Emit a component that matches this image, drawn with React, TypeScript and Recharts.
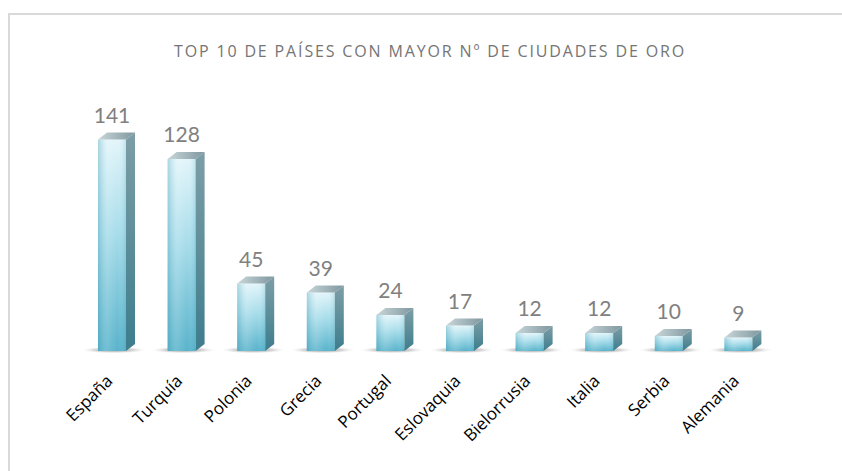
import React from 'react';
import { BarChart, Bar, XAxis, YAxis, LabelList } from 'recharts';

const countries = ['España', 'Turquía', 'Polonia', 'Grecia', 'Portugal', 'Eslovaquia', 'Bielorrusia', 'Italia', 'Serbia', 'Alemania'];
const goldCities = [141, 128, 45, 39, 24, 17, 12, 12, 10, 9];
const chartTitle = 'TOP 10 DE PAÍSES CON MAYOR Nº DE CIUDADES DE ORO';

const data = countries.map((country, i) => ({ country, value: goldCities[i] }));

const DX = 9;
const DY = 7;
const FONT = 'Lato, "Open Sans", sans-serif';
const FONT2 = '"Open Sans", Lato, sans-serif';

function Bar3D(props: any) {
  const { x, y, width, height, index } = props;
  if (height == null || width == null) return null;
  const b = y + height;
  const r = x + width;
  const id = `b${index}`;
  return (
    <g>
      <defs>
        <linearGradient id={`${id}front`} x1="0" y1="0" x2="0" y2="1">
          <stop offset="0%" stopColor="#e2f5fa" />
          <stop offset="45%" stopColor="#a6dcea" />
          <stop offset="100%" stopColor="#58b3cb" />
        </linearGradient>
        <linearGradient id={`${id}frontH`} x1="0" y1="0" x2="1" y2="0">
          <stop offset="0%" stopColor="#3a9ab3" stopOpacity="0.35" />
          <stop offset="35%" stopColor="#ffffff" stopOpacity="0.15" />
          <stop offset="70%" stopColor="#ffffff" stopOpacity="0" />
          <stop offset="100%" stopColor="#3a9ab3" stopOpacity="0.2" />
        </linearGradient>
        <linearGradient id={`${id}side`} x1="0" y1="0" x2="0" y2="1">
          <stop offset="0%" stopColor="#7d9ea6" />
          <stop offset="100%" stopColor="#3d7d8d" />
        </linearGradient>
        <linearGradient id={`${id}top`} x1="0" y1="0" x2="1" y2="0">
          <stop offset="0%" stopColor="#c9d6d9" />
          <stop offset="100%" stopColor="#7e979e" />
        </linearGradient>
        <radialGradient id={`${id}shadow`} cx="0.5" cy="0.5" r="0.5">
          <stop offset="0%" stopColor="#7a7a7a" stopOpacity="0.85" />
          <stop offset="60%" stopColor="#a8a8a8" stopOpacity="0.45" />
          <stop offset="100%" stopColor="#ffffff" stopOpacity="0" />
        </radialGradient>
      </defs>
      <ellipse cx={x + width / 2 + 2} cy={b - 1} rx={width * 1.2} ry={3.5} fill={`url(#${id}shadow)`} />
      <rect x={x} y={y} width={width} height={height} fill={`url(#${id}front)`} />
      <rect x={x} y={y} width={width} height={height} fill={`url(#${id}frontH)`} />
      <polygon
        points={`${r},${y} ${r + DX},${y - DY} ${r + DX},${b - DY} ${r},${b}`}
        fill={`url(#${id}side)`}
      />
      <polygon
        points={`${x},${y} ${x + DX},${y - DY} ${r + DX},${y - DY} ${r},${y}`}
        fill={`url(#${id}top)`}
      />
    </g>
  );
}

function ValueLabel(props: any) {
  const { x, y, width, value } = props;
  return (
    <text
      x={x + width / 2}
      y={y - 17}
      textAnchor="middle"
      fill="#808080"
      fontSize={21}
      fontFamily={FONT}
    >
      {value}
    </text>
  );
}

function CountryTick(props: any) {
  const { x, y, payload } = props;
  const tx = x + 2;
  const ty = y + 23;
  return (
    <text
      x={tx}
      y={ty}
      transform={`rotate(-45, ${tx}, ${ty})`}
      textAnchor="end"
      fill="#000000"
      fontSize={17}
      fontFamily={FONT2}
    >
      {payload.value}
    </text>
  );
}

export default function App() {
  return (
    <div style={{ position: 'absolute', left: 0, top: 0, width: 842, height: 471, background: '#ffffff', overflow: 'hidden' }}>
      <div
        style={{
          position: 'absolute',
          left: 8,
          top: 13,
          width: 900,
          height: 500,
          borderLeft: '2px solid #d9d9d9',
          borderTop: '2px solid #d9d9d9',
        }}
      />
      <div
        style={{
          position: 'absolute',
          left: 12,
          width: 836,
          top: 40,
          textAlign: 'center',
          fontFamily: FONT2,
          fontSize: 16,
          lineHeight: '22px',
          color: '#757575',
          letterSpacing: 1.85,
          whiteSpace: 'nowrap',
        }}
      >
        {chartTitle}
      </div>
      <div style={{ position: 'absolute', left: 0, top: 0 }}>
        <BarChart
          width={842}
          height={471}
          data={data}
          margin={{ top: 111, right: 69, bottom: 0, left: 77 }}
          barSize={28}
        >
          <XAxis
            dataKey="country"
            height={120}
            axisLine={false}
            tickLine={false}
            interval={0}
            tick={<CountryTick />}
          />
          <YAxis hide domain={[0, 160]} />
          <Bar dataKey="value" shape={<Bar3D />} isAnimationActive={false}>
            <LabelList dataKey="value" content={<ValueLabel />} />
          </Bar>
        </BarChart>
      </div>
    </div>
  );
}
